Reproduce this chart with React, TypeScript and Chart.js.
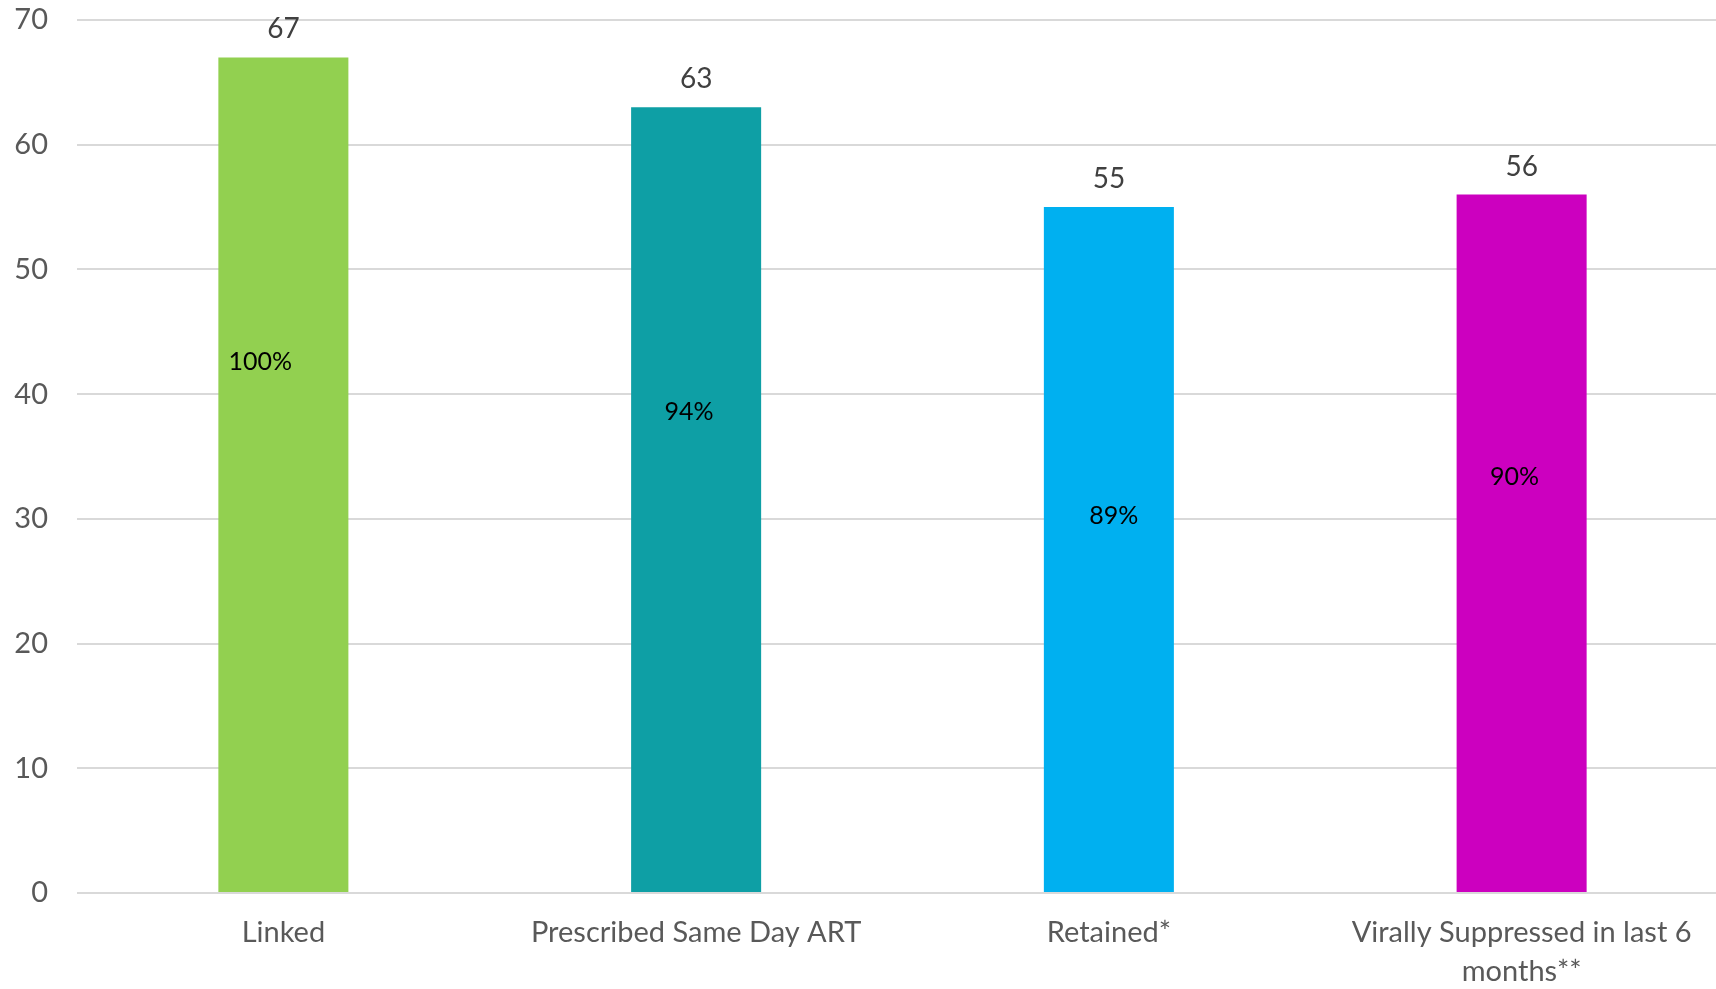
import React, { useEffect, useRef } from "react";
import { Chart, registerables } from "chart.js";

Chart.register(...registerables);

// Care cascade counts
const categories: (string | string[])[] = [
  "Linked",
  "Prescribed Same Day ART",
  "Retained*",
  ["Virally Suppressed in last 6", "months**"],
];
const counts = [67, 63, 55, 56];
const percentLabels = ["100%", "94%", "89%", "90%"];
const barColors = ["#92D050", "#0E9FA5", "#00B0F0", "#CC00BF"];
const yTicks = [0, 10, 20, 30, 40, 50, 60, 70];

// Placement of the percentage labels inside the bars (value height, horizontal nudge in px)
const pctLabelHeight = [42.6, 38.6, 30.2, 33.4];
const pctLabelNudge = [-23, -7, 5, -7];

const FONT = "Lato";

const barLabels = {
  id: "barLabels",
  afterDatasetsDraw(chart: any) {
    const { ctx } = chart;
    const meta = chart.getDatasetMeta(0);
    const yScale = chart.scales.y;
    ctx.save();
    ctx.textAlign = "center";
    ctx.textBaseline = "middle";
    meta.data.forEach((bar: any, i: number) => {
      // count above the bar
      ctx.fillStyle = "#404040";
      ctx.font = `28px ${FONT}`;
      ctx.fillText(String(counts[i]), bar.x, bar.y - 28);
      // share inside the bar
      ctx.fillStyle = "#000000";
      ctx.font = `25px ${FONT}`;
      ctx.fillText(percentLabels[i], bar.x + pctLabelNudge[i], yScale.getPixelForValue(pctLabelHeight[i]));
    });
    ctx.restore();
  },
};

export default function App() {
  const canvasRef = useRef<HTMLCanvasElement | null>(null);

  useEffect(() => {
    if (!canvasRef.current) return;
    const chart = new Chart(canvasRef.current, {
      type: "bar",
      data: {
        labels: categories,
        datasets: [
          {
            data: counts,
            backgroundColor: barColors,
            borderWidth: 0,
            barPercentage: 0.315,
            categoryPercentage: 1,
          },
        ],
      },
      options: {
        responsive: false,
        animation: false,
        layout: { padding: { top: 20, right: 2, bottom: 0, left: 0 } },
        plugins: {
          legend: { display: false },
          tooltip: { enabled: false },
        },
        scales: {
          x: {
            grid: { display: false, drawTicks: false },
            border: { display: false },
            ticks: {
              color: "#595959",
              font: { family: FONT, size: 29, lineHeight: 1.32 },
              padding: 21,
              maxRotation: 0,
              autoSkip: false,
            },
            afterFit(scale: any) {
              scale.height = 96;
              scale.paddingLeft = 0;
              scale.paddingRight = 0;
            },
          },
          y: {
            min: 0,
            max: 70,
            afterBuildTicks(scale: any) {
              scale.ticks = yTicks.map((v) => ({ value: v }));
            },
            grid: { color: "#D9D9D9", lineWidth: 2, drawTicks: false },
            border: { display: false },
            ticks: {
              color: "#595959",
              font: { family: FONT, size: 29 },
              padding: 29,
            },
            afterFit(scale: any) {
              scale.width = 77;
              scale.paddingTop = 0;
              scale.paddingBottom = 0;
            },
          },
        },
      },
      plugins: [barLabels],
    });
    return () => chart.destroy();
  }, []);

  return (
    <div
      style={{
        position: "fixed",
        left: 0,
        top: 0,
        width: 1716,
        height: 989,
        overflow: "hidden",
        background: "#ffffff",
      }}
    >
      <canvas ref={canvasRef} width={1730} height={989} style={{ display: "block" }} />
    </div>
  );
}
